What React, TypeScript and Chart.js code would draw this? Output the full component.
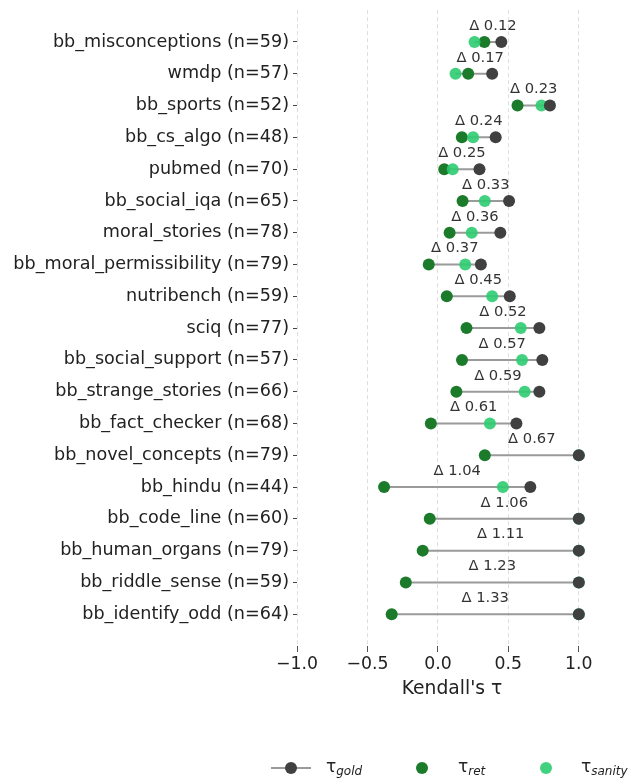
import React, { useEffect, useRef } from 'react';
import { Chart, registerables } from 'chart.js';

Chart.register(...registerables);

const categories = [
  'bb_misconceptions (n=59)',
  'wmdp (n=57)',
  'bb_sports (n=52)',
  'bb_cs_algo (n=48)',
  'pubmed (n=70)',
  'bb_social_iqa (n=65)',
  'moral_stories (n=78)',
  'bb_moral_permissibility (n=79)',
  'nutribench (n=59)',
  'sciq (n=77)',
  'bb_social_support (n=57)',
  'bb_strange_stories (n=66)',
  'bb_fact_checker (n=68)',
  'bb_novel_concepts (n=79)',
  'bb_hindu (n=44)',
  'bb_code_line (n=60)',
  'bb_human_organs (n=79)',
  'bb_riddle_sense (n=59)',
  'bb_identify_odd (n=64)',
];

const goldValues = [0.45, 0.385, 0.795, 0.41, 0.295, 0.505, 0.443, 0.305, 0.51, 0.72, 0.741, 0.72, 0.557, 1, 0.656, 1, 1, 1, 1];
const retValues = [0.33, 0.215, 0.565, 0.17, 0.045, 0.175, 0.083, -0.065, 0.063, 0.203, 0.171, 0.131, -0.05, 0.333, -0.382, -0.058, -0.108, -0.228, -0.328];
const sanityValues = [0.26, 0.125, 0.735, 0.25, 0.105, 0.333, 0.24, 0.194, 0.385, 0.588, 0.597, 0.616, 0.369, 1, 0.461, 1, 1, 1, 1];

const xTickValues = [-1, -0.5, 0, 0.5, 1];

const FONT = "'DejaVu Sans', sans-serif";
const GOLD_COLOR = '#404040';
const RET_COLOR = '#1b7b2b';
const SANITY_COLOR = 'rgba(46, 204, 113, 0.9)';
const RANGE_COLOR = '#9a9a9a';

const rangePlugin = {
  id: 'rangeLines',
  beforeDatasetsDraw(chart: any) {
    const { ctx, scales } = chart;
    const x = scales.x;
    const y = scales.y;
    ctx.save();
    ctx.strokeStyle = RANGE_COLOR;
    ctx.lineWidth = 2;
    categories.forEach((_, i) => {
      const vals = [goldValues[i], retValues[i], sanityValues[i]];
      const lo = Math.min(...vals);
      const hi = Math.max(...vals);
      const py = y.getPixelForValue(i);
      ctx.beginPath();
      ctx.moveTo(x.getPixelForValue(lo), py);
      ctx.lineTo(x.getPixelForValue(hi), py);
      ctx.stroke();
    });
    ctx.restore();
  },
  afterDatasetsDraw(chart: any) {
    const { ctx, scales } = chart;
    const x = scales.x;
    const y = scales.y;
    ctx.save();
    ctx.fillStyle = '#333333';
    ctx.font = `14.7px ${FONT}`;
    ctx.textAlign = 'center';
    ctx.textBaseline = 'middle';
    categories.forEach((_, i) => {
      const delta = goldValues[i] - retValues[i];
      const mid = (goldValues[i] + retValues[i]) / 2;
      ctx.fillText('\u0394 ' + delta.toFixed(2), x.getPixelForValue(mid), y.getPixelForValue(i) - 16);
    });
    ctx.restore();
  },
};

const toPoints = (vals: number[]) => vals.map((v, i) => ({ x: v, y: i }));

export default function App() {
  const canvasRef = useRef<HTMLCanvasElement | null>(null);

  useEffect(() => {
    const canvas = canvasRef.current;
    if (!canvas) return;
    const chart = new Chart(canvas, {
      type: 'scatter',
      data: {
        datasets: [
          {
            label: 'gold',
            data: toPoints(goldValues),
            backgroundColor: GOLD_COLOR,
            borderColor: GOLD_COLOR,
            borderWidth: 0,
            pointRadius: 6,
          },
          {
            label: 'sanity',
            data: toPoints(sanityValues),
            backgroundColor: SANITY_COLOR,
            borderColor: SANITY_COLOR,
            borderWidth: 0,
            pointRadius: 6,
          },
          {
            label: 'ret',
            data: toPoints(retValues),
            backgroundColor: RET_COLOR,
            borderColor: RET_COLOR,
            borderWidth: 0,
            pointRadius: 6,
          },
        ],
      },
      options: {
        responsive: false,
        animation: false,
        layout: { padding: { top: 10.2, right: 26, bottom: 82, left: 0 } },
        plugins: {
          legend: { display: false },
          tooltip: { enabled: false },
        },
        scales: {
          x: {
            type: 'linear',
            min: -1,
            max: 1.2,
            afterBuildTicks: (s: any) => {
              s.ticks = xTickValues.map((v) => ({ value: v }));
            },
            afterFit: (s: any) => {
              s.paddingLeft = 0;
              s.paddingRight = 0;
            },
            ticks: {
              autoSkip: false,
              maxRotation: 0,
              padding: 2,
              color: '#222222',
              font: { family: FONT, size: 17.3 },
              callback: (v: any) => {
                const n = Number(v);
                const s = Math.abs(n).toFixed(1);
                return n < 0 ? '\u2212' + s : s;
              },
            },
            grid: {
              color: '#dedede',
              lineWidth: 1,
              tickLength: 6,
              tickColor: '#555555',
              tickWidth: 1,
            },
            border: { display: false, dash: [4, 3] },
            title: {
              display: true,
              text: "Kendall's \u03c4",
              color: '#222222',
              font: { family: FONT, size: 18.7 },
              padding: { top: 0.8, bottom: 0 },
            },
          },
          y: {
            type: 'linear',
            reverse: true,
            min: -1,
            max: 19,
            afterBuildTicks: (s: any) => {
              s.ticks = categories.map((_, i) => ({ value: i }));
            },
            afterFit: (s: any) => {
              s.width = 297;
              s.paddingTop = 0;
              s.paddingBottom = 0;
            },
            ticks: {
              autoSkip: false,
              padding: 4,
              color: '#222222',
              font: { family: FONT, size: 17.6 },
              callback: (v: any) => categories[Number(v)] ?? '',
            },
            grid: {
              drawOnChartArea: false,
              tickLength: 4,
              tickColor: '#444444',
              tickWidth: 1,
            },
            border: { display: false },
          },
        },
      },
      plugins: [rangePlugin],
    } as any);
    return () => chart.destroy();
  }, []);

  const textStyle: React.CSSProperties = {
    position: 'absolute',
    top: 756,
    fontFamily: FONT,
    fontSize: 17,
    lineHeight: '20px',
    color: '#222222',
    whiteSpace: 'nowrap',
  };
  const subStyle: React.CSSProperties = {
    fontSize: 12,
    fontStyle: 'italic',
    position: 'relative',
    top: 3,
  };
  const dot = (cx: number, color: string): React.CSSProperties => ({
    position: 'absolute',
    left: cx - 6,
    top: 767.5 - 6,
    width: 12,
    height: 12,
    borderRadius: '50%',
    background: color,
  });

  return (
    <div style={{ position: 'absolute', left: 0, top: 0, width: 633, height: 782 }}>
      <canvas ref={canvasRef} width={633} height={782} style={{ display: 'block' }} />
      <div style={{ position: 'absolute', left: 271, top: 766.5, width: 40, height: 2, background: RANGE_COLOR }} />
      <div style={dot(291, GOLD_COLOR)} />
      <div style={{ ...textStyle, left: 326 }}>
        {'\u03c4'}<span style={subStyle}>gold</span>
      </div>
      <div style={dot(422, RET_COLOR)} />
      <div style={{ ...textStyle, left: 458 }}>
        {'\u03c4'}<span style={subStyle}>ret</span>
      </div>
      <div style={dot(546, SANITY_COLOR)} />
      <div style={{ ...textStyle, left: 581 }}>
        {'\u03c4'}<span style={subStyle}>sanity</span>
      </div>
    </div>
  );
}
